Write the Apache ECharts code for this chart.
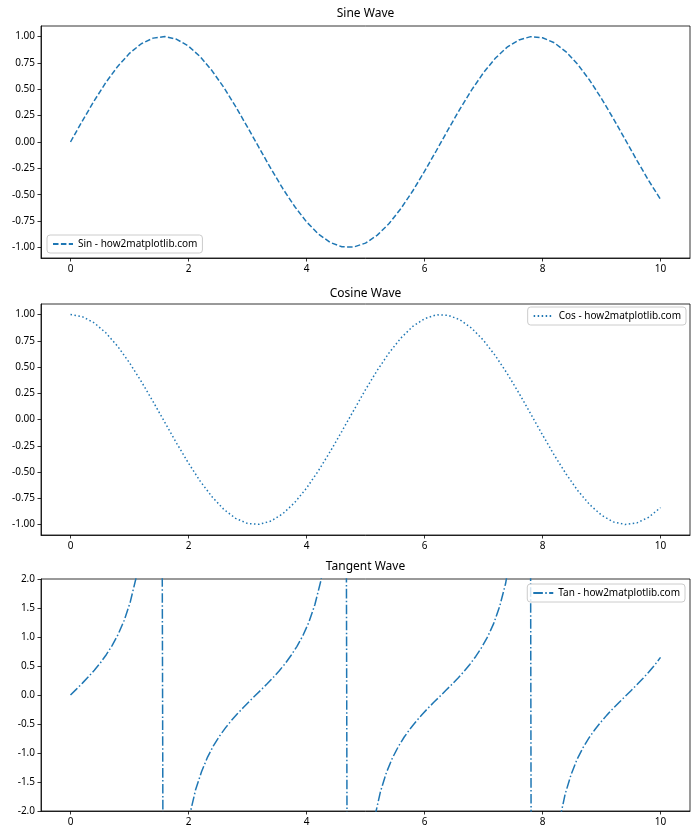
<!DOCTYPE html>
<html><head><meta charset="utf-8">
<script src="https://cdn.jsdelivr.net/npm/echarts@6/dist/echarts.min.js"></script>
<style>html,body{margin:0;padding:0;background:#fff}#c{width:700px;height:840px}</style>
</head><body><div id="c"></div>
<script>
// x positions for sine / cosine
const xsTrig = [0,0.2,0.4,0.6,0.8,1.0,1.2,1.4,1.6,1.8,2.0,2.2,2.4,2.6,2.8,3.0,3.2,3.4,3.6,3.8,4.0,4.2,4.4,4.6,4.8,5.0,5.2,5.4,5.6,5.8,6.0,6.2,6.4,6.6,6.8,7.0,7.2,7.4,7.6,7.8,8.0,8.2,8.4,8.6,8.8,9.0,9.2,9.4,9.6,9.8,10.0];
const sinVals = [0,0.199,0.389,0.565,0.717,0.841,0.932,0.985,1.000,0.974,0.909,0.808,0.675,0.516,0.335,0.141,-0.058,-0.256,-0.443,-0.612,-0.757,-0.872,-0.952,-0.994,-0.996,-0.959,-0.883,-0.773,-0.631,-0.465,-0.279,-0.083,0.117,0.312,0.494,0.657,0.794,0.899,0.968,0.999,0.989,0.941,0.855,0.734,0.585,0.412,0.223,0.025,-0.174,-0.366,-0.544];
const cosVals = [1.000,0.980,0.921,0.825,0.697,0.540,0.362,0.170,-0.029,-0.227,-0.416,-0.589,-0.737,-0.857,-0.942,-0.990,-0.998,-0.967,-0.897,-0.791,-0.654,-0.490,-0.307,-0.112,0.087,0.284,0.469,0.635,0.776,0.886,0.960,0.997,0.993,0.950,0.869,0.754,0.608,0.439,0.252,0.054,-0.146,-0.340,-0.519,-0.679,-0.811,-0.911,-0.975,-1.000,-0.985,-0.931,-0.839];
// tangent samples
const xsTan = [0,0.1010,0.2020,0.3030,0.4040,0.5051,0.6061,0.7071,0.8081,0.9091,1.0101,1.1111,1.2121,1.3131,1.4141,1.5152,1.6162,1.7172,1.8182,1.9192,2.0202,2.1212,2.2222,2.3232,2.4242,2.5253,2.6263,2.7273,2.8283,2.9293,3.0303,3.1313,3.2323,3.3333,3.4343,3.5354,3.6364,3.7374,3.8384,3.9394,4.0404,4.1414,4.2424,4.3434,4.4444,4.5455,4.6465,4.7475,4.8485,4.9495,5.0505,5.1515,5.2525,5.3535,5.4545,5.5556,5.6566,5.7576,5.8586,5.9596,6.0606,6.1616,6.2626,6.3636,6.4646,6.5657,6.6667,6.7677,6.8687,6.9697,7.0707,7.1717,7.2727,7.3737,7.4747,7.5758,7.6768,7.7778,7.8788,7.9798,8.0808,8.1818,8.2828,8.3838,8.4848,8.5859,8.6869,8.7879,8.8889,8.9899,9.0909,9.1919,9.2929,9.3939,9.4949,9.5960,9.6970,9.7980,9.8990,10.0];
const tanVals = [0,0.101,0.205,0.313,0.428,0.552,0.695,0.855,1.046,1.285,1.592,2.018,2.65,3.89,6.33,17.97,-22.0,-6.78,-3.96,-2.75,-2.07,-1.63,-1.32,-1.07,-0.873,-0.709,-0.567,-0.440,-0.324,-0.216,-0.112,-0.010,0.091,0.194,0.301,0.415,0.539,0.680,0.839,1.025,1.256,1.557,1.965,2.58,3.74,5.93,15.1,-28.5,-7.30,-4.14,-2.84,-2.13,-1.67,-1.34,-1.09,-0.891,-0.724,-0.581,-0.453,-0.335,-0.226,-0.122,-0.021,0.081,0.183,0.290,0.403,0.527,0.665,0.822,1.005,1.230,1.523,1.918,2.51,3.60,5.62,13.1,-40.3,-7.91,-4.33,-2.94,-2.19,-1.71,-1.37,-1.11,-0.909,-0.739,-0.595,-0.465,-0.347,-0.237,-0.133,-0.031,0.070,0.173,0.279,0.392,0.514,0.648];
const xTicks = [0,2,4,6,8,10];
const trigTicks = [-1.00,-0.75,-0.50,-0.25,0.00,0.25,0.50,0.75,1.00];
const tanTicks = [-2.0,-1.5,-1.0,-0.5,0.0,0.5,1.0,1.5,2.0];
const titles = ['Sine Wave','Cosine Wave','Tangent Wave'];
const names = ['Sin - how2matplotlib.com','Cos - how2matplotlib.com','Tan - how2matplotlib.com'];

const FONT = 'Noto Sans, DejaVu Sans, sans-serif';
const C = '#1f77b4';
const grids = [
  {left:41, right:10, top:26, height:232},
  {left:41, right:10, top:304, height:231},
  {left:41, right:10, top:579, height:232}
];
const pair = (xs, ys) => xs.map((x,i)=>[x, ys[i]]);

function xAxis(i){
  return {type:'value', gridIndex:i, min:-0.5, max:10.5, position:'bottom',
    splitLine:{show:false},
    axisLine:{show:true, onZero:false, lineStyle:{color:'#000', width:0.8}},
    axisTick:{show:true, length:3.5, lineStyle:{color:'#000', width:0.8}, customValues:xTicks},
    axisLabel:{color:'#000', fontSize:10, fontFamily:FONT, margin:6, customValues:xTicks, formatter:v=>String(v)}
  };
}
function yAxis(i, min, max, ticks, dec){
  return {type:'value', gridIndex:i, min:min, max:max, position:'left',
    splitLine:{show:false},
    axisLine:{show:true, onZero:false, lineStyle:{color:'#000', width:0.8}},
    axisTick:{show:true, length:3.5, lineStyle:{color:'#000', width:0.8}, customValues:ticks},
    axisLabel:{color:'#000', fontSize:10, fontFamily:FONT, margin:6, customValues:ticks, formatter:v=>v.toFixed(dec)}
  };
}
const legendBase = {orient:'vertical', backgroundColor:'rgba(255,255,255,0.8)', borderColor:'#cccccc', borderWidth:1, borderRadius:3,
  padding:[4,5,4,5], itemWidth:20, itemHeight:10, itemGap:4,
  itemStyle:{opacity:0},
  textStyle:{fontSize:10, fontFamily:FONT, color:'#000'}};

const option = {
  animation:false,
  backgroundColor:'#fff',
  title: titles.map((t,i)=>({text:t, left:365.5, textAlign:'center', top:[8,288,561][i], padding:0,
    textStyle:{fontSize:12, fontWeight:'normal', fontFamily:FONT, color:'#000'}})),
  grid: grids.map(g=>Object.assign({show:true, borderColor:'#000', borderWidth:0.8, backgroundColor:'transparent'}, g)),
  xAxis: [xAxis(0), xAxis(1), xAxis(2)],
  yAxis: [yAxis(0,-1.1,1.1,trigTicks,2), yAxis(1,-1.1,1.1,trigTicks,2), yAxis(2,-2,2,tanTicks,1)],
  legend: [
    Object.assign({}, legendBase, {data:[names[0]], left:47, top:235}),
    Object.assign({}, legendBase, {data:[names[1]], right:14, top:307}),
    Object.assign({}, legendBase, {data:[names[2]], right:15, top:584})
  ],
  series: [
    {name:names[0], type:'line', xAxisIndex:0, yAxisIndex:0, data:pair(xsTrig, sinVals), showSymbol:false, symbol:'none',
      lineStyle:{color:C, width:1.5, type:[5.5,2.4]}, itemStyle:{color:C}},
    {name:names[1], type:'line', xAxisIndex:1, yAxisIndex:1, data:pair(xsTrig, cosVals), showSymbol:false, symbol:'none',
      lineStyle:{color:C, width:1.5, type:[1.5,2.5]}, itemStyle:{color:C}},
    {name:names[2], type:'line', xAxisIndex:2, yAxisIndex:2, data:pair(xsTan, tanVals), showSymbol:false, symbol:'none', clip:true,
      lineStyle:{color:C, width:1.5, type:[9.6,2.4,1.5,2.4]}, itemStyle:{color:C}}
  ]
};
const chart = echarts.init(document.getElementById('c'), null, {renderer:'canvas'});
chart.setOption(option);
</script>
</body></html>
